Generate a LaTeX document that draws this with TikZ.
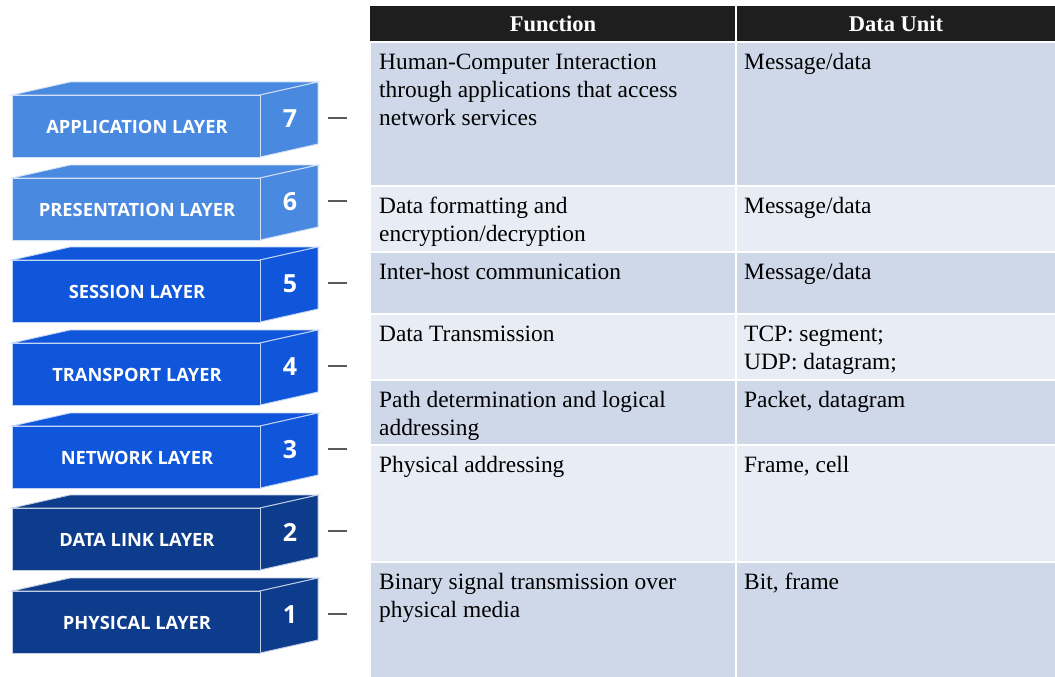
\documentclass[tikz,border=0pt]{standalone}
\usepackage{fontspec}
\setmainfont{Liberation Serif}
\newfontfamily\blockfont{Open Sans}
\definecolor{lightblue}{RGB}{74,137,224}
\definecolor{midblue}{RGB}{16,86,218}
\definecolor{navyblue}{RGB}{13,60,140}
\definecolor{rowdark}{RGB}{207,216,233}
\definecolor{rowlight}{RGB}{232,236,244}
\definecolor{headfill}{RGB}{30,30,30}
\definecolor{dashgray}{RGB}{90,90,90}
\newcommand{\celltext}[1]{\begin{tabular}[t]{@{}l@{}}#1\end{tabular}}
\begin{document}
\begin{tikzpicture}[x=1pt,y=-1pt,
  face/.style={draw=white!75!#1,line width=0.9pt,line join=miter},
  layertext/.style={text=white,font=\blockfont\bfseries\fontsize{18.3}{20}\selectfont,inner sep=0pt},
  layernum/.style={text=white,font=\blockfont\bfseries\fontsize{25}{27}\selectfont,inner sep=0pt},
  layerdash/.style={draw=dashgray,line width=1.4pt},
  cellbox/.style={line width=2pt,draw=white},
  celltxt/.style={anchor=base west,inner sep=0pt,font=\fontsize{23.4}{28}\selectfont,text=black},
  headtxt/.style={inner sep=0pt,font=\bfseries\fontsize{22.5}{26}\selectfont,text=white}]
\useasboundingbox (0,0) rectangle (1055,677);
\fill[white] (0,0) rectangle (1055,677);
% ---------- layer blocks ----------
\foreach \n/\T/\col/\name in {7/82/lightblue/APPLICATION LAYER,6/165/lightblue/PRESENTATION LAYER,5/247/midblue/SESSION LAYER,4/330/midblue/TRANSPORT LAYER,3/413/midblue/NETWORK LAYER,2/495/navyblue/DATA LINK LAYER,1/578/navyblue/PHYSICAL LAYER}{
  \filldraw[fill=\col,face=\col] (12,\T+13) -- (70,\T) -- (318,\T) -- (260,\T+13) -- cycle;
  \filldraw[fill=\col,face=\col] (260,\T+13) -- (318,\T) -- (318,\T+62) -- (260,\T+75) -- cycle;
  \filldraw[fill=\col,face=\col] (12,\T+13) rectangle (260,\T+75);
  \node[layertext] (L\n) at (137,\T+45) {\name};
  \node[layernum] (N\n) at (290,\T+37) {\n};
  \coordinate (DA\n) at (328,\T+36);
  \coordinate (DB\n) at (347,\T+36);
  \draw[layerdash] (DA\n) -- (DB\n);
}
% ---------- table ----------
\fill[headfill] (370,6) rectangle (1055,42);
\draw[white,line width=1.5pt] (736,6) -- (736,42);
\node[headtxt] (hF) at (553,24) {Function};
\node[headtxt] (hD) at (896,24) {Data Unit};
\foreach \a/\b/\c in {42/186/rowdark,186/252/rowlight,252/314/rowdark,314/380/rowlight,380/445/rowdark,445/562/rowlight,562/680/rowdark}{
  \filldraw[fill=\c,cellbox] (370,\a) rectangle (736,\b);
  \filldraw[fill=\c,cellbox] (736,\a) rectangle (1058,\b);
}
\node[celltxt] (f7) at (379,70) {\celltext{Human-Computer Interaction\\through applications that access\\network services}};
\node[celltxt] (d7) at (744,70) {\celltext{Message/data}};
\node[celltxt] (f6) at (379,213.5) {\celltext{Data formatting and\\encryption/decryption}};
\node[celltxt] (d6) at (744,213.5) {\celltext{Message/data}};
\node[celltxt] (f5) at (379,279.5) {\celltext{Inter-host communication}};
\node[celltxt] (d5) at (744,279.5) {\celltext{Message/data}};
\node[celltxt] (f4) at (379,341.5) {\celltext{Data Transmission}};
\node[celltxt] (d4) at (744,341.5) {\celltext{TCP: segment;\\UDP: datagram;}};
\node[celltxt] (f3) at (379,407.5) {\celltext{Path determination and logical\\addressing}};
\node[celltxt] (d3) at (744,407.5) {\celltext{Packet, datagram}};
\node[celltxt] (f2) at (379,472.5) {\celltext{Physical addressing}};
\node[celltxt] (d2) at (744,472.5) {\celltext{Frame, cell}};
\node[celltxt] (f1) at (379,589.5) {\celltext{Binary signal transmission over\\physical media}};
\node[celltxt] (d1) at (744,589.5) {\celltext{Bit, frame}};
\end{tikzpicture}
\end{document}
